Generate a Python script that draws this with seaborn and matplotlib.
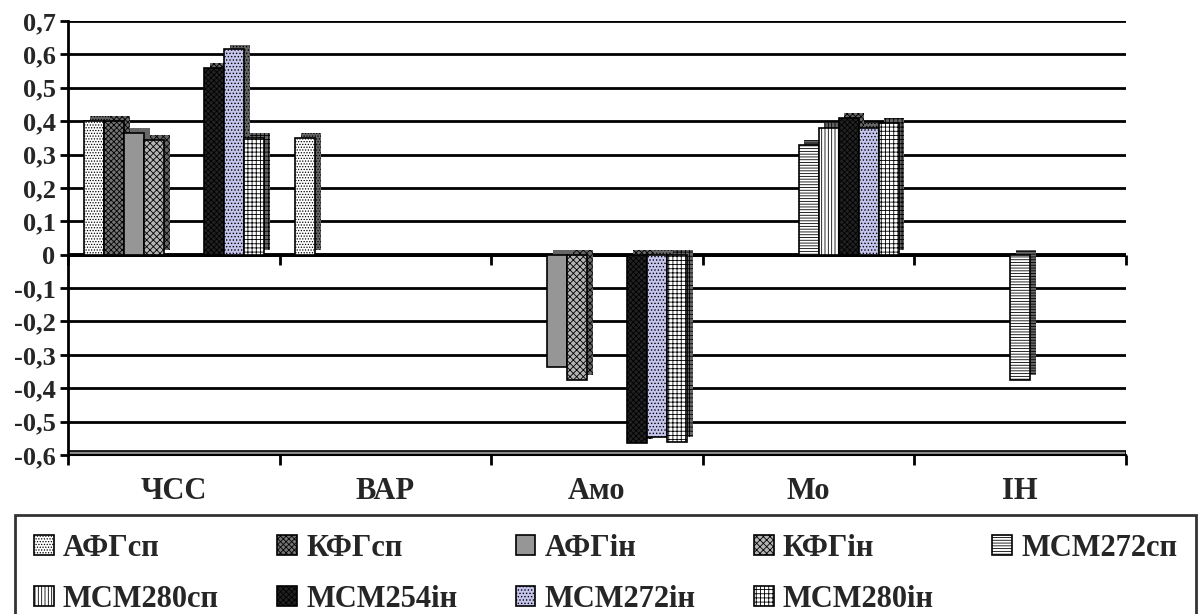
import numpy as np
import pandas as pd
import matplotlib
matplotlib.use("Agg")
import matplotlib.pyplot as plt
import matplotlib.patches as mpatches
import matplotlib.patheffects as pe
import seaborn as sns

# ---------------- data ----------------
categories = ["ЧСС", "ВАР", "Амо", "Мо", "ІН"]
series = ["АФГсп", "КФГсп", "АФГін", "КФГін", "МСМ272сп",
          "МСМ280сп", "МСМ254ін", "МСМ272ін", "МСМ280ін"]

afg_sp    = [0.40, 0.35, 0.0, 0.0, 0.0]
kfg_sp    = [0.40, 0.0, 0.0, 0.0, 0.0]
afg_in    = [0.365, 0.0, -0.335, 0.0, 0.0]
kfg_in    = [0.345, 0.0, -0.375, 0.0, 0.0]
msm272_sp = [0.0, 0.0, 0.0, 0.33, -0.375]
msm280_sp = [0.0, 0.0, 0.0, 0.38, 0.0]
msm254_in = [0.56, 0.0, -0.565, 0.41, 0.0]
msm272_in = [0.615, 0.0, -0.545, 0.38, 0.0]
msm280_in = [0.35, 0.0, -0.56, 0.395, 0.0]

y_ticks = [-0.6, -0.5, -0.4, -0.3, -0.2, -0.1, 0.0, 0.1, 0.2, 0.3, 0.4, 0.5, 0.6, 0.7]
y_tick_labels = ["-0,6", "-0,5", "-0,4", "-0,3", "-0,2", "-0,1", "0",
                 "0,1", "0,2", "0,3", "0,4", "0,5", "0,6", "0,7"]

values = [afg_sp, kfg_sp, afg_in, kfg_in, msm272_sp,
          msm280_sp, msm254_in, msm272_in, msm280_in]

rows = []
for s, vals in zip(series, values):
    for c, v in zip(categories, vals):
        rows.append({"cat": c, "series": s, "val": v})
df = pd.DataFrame(rows)

# ---------------- styles ----------------
face = ["#ffffff", "#747474", "#969696", "#b4b4b4", "#ffffff",
        "#ffffff", "#222222", "#c4c4ec", "#ffffff"]
hatches = ["......", "xxxxxx", None, "xxxxx", "------", "|||||", "xxxxxx", ".....", "++++"]
hatch_cols = ["0.6", "0.35", "black", "0.25", "0.1", "0.35", "0.5", "#a8a8d4", "0.45"]

sns.set_theme(style="white")
plt.rcParams["font.family"] = ["Liberation Serif", "DejaVu Serif"]
plt.rcParams["font.weight"] = "bold"
plt.rcParams["hatch.linewidth"] = 0.6

fig = plt.figure(figsize=(12.03, 6.14), dpi=100)
ax = fig.add_axes([68 / 1203, 1 - 455 / 614, 1058 / 1203, 434 / 614])

sns.barplot(data=df, x="cat", y="val", hue="series", order=categories,
            hue_order=series, palette=dict(zip(series, face)), saturation=1,
            width=0.85, edgecolor="black", linewidth=1.2, legend=False, ax=ax)

shadow = [pe.SimplePatchShadow(offset=(4.2, 3.4), shadow_rgbFace="0.4", alpha=1.0),
          pe.Normal()]

def style_patch(p, i):
    if hatches[i]:
        p.set_hatch(hatches[i])
        if hasattr(p, "set_hatchcolor"):
            p.set_hatchcolor(hatch_cols[i])
    p.set_path_effects(shadow)

for i, cont in enumerate(ax.containers):
    for p in cont.patches:
        if abs(p.get_height()) < 1e-9:
            p.set_visible(False)
            continue
        style_patch(p, i)
        p.set_zorder(3)

# ---------------- axes ----------------
ax.set_xlim(-0.5, len(categories) - 0.5)
ax.set_ylim(-0.6, 0.7)
ax.set_yticks(y_ticks)
ax.set_yticklabels(y_tick_labels, fontsize=19, fontweight="bold")
ax.yaxis.grid(True, color="black", lw=2.0)
ax.set_axisbelow(True)
ax.set_xlabel("")
ax.set_ylabel("")

for s in ["top", "right"]:
    ax.spines[s].set_visible(False)
ax.spines["left"].set_color("black")
ax.spines["left"].set_linewidth(2.0)
ax.spines["bottom"].set_color("black")
ax.spines["bottom"].set_linewidth(1.5)

ax.tick_params(axis="y", direction="out", length=6, width=2, color="black", pad=3,
               left=True)
bounds = np.arange(-0.5, len(categories), 1.0)
ax.set_xticks(bounds, minor=True)
ax.tick_params(axis="x", which="major", length=0, pad=16, labelsize=22)
ax.tick_params(axis="x", which="minor", direction="out", length=7, width=2,
               color="black", bottom=True)
for t in ax.get_xticklabels():
    t.set_fontweight("bold")

# zero line with category ticks
ax.axhline(0, color="black", lw=2.8, zorder=2)
ax.plot(bounds, np.zeros_like(bounds), ls="none", marker=3, ms=7, mew=2,
        color="black", zorder=2, clip_on=False)
# floor
ax.axhspan(-0.6, -0.588, fc="0.55", ec="black", lw=1.2, zorder=2)

# ---------------- legend ----------------
handles = []
for i, s in enumerate(series):
    h = mpatches.Patch(facecolor=face[i], edgecolor="black", lw=1.2,
                       hatch=hatches[i], label=s)
    if hatches[i] and hasattr(h, "set_hatchcolor"):
        h.set_hatchcolor(hatch_cols[i])
    handles.append(h)
order = [0, 5, 1, 6, 2, 7, 3, 8, 4]
leg = fig.legend([handles[k] for k in order], [series[k] for k in order],
                 ncol=5, loc="upper left",
                 bbox_to_anchor=(15 / 1203, 1 - 515 / 614, 1181 / 1203, 0),
                 mode="expand", frameon=True, fancybox=False, edgecolor="black",
                 prop={"family": "Liberation Serif", "weight": "bold", "size": 22},
                 handlelength=0.65, handleheight=0.65, handletextpad=0.3,
                 borderaxespad=0, borderpad=0.62, labelspacing=0.72,
                 columnspacing=1.0)
leg.get_frame().set_linewidth(2.0)

fig.savefig("out.png", dpi=100)
